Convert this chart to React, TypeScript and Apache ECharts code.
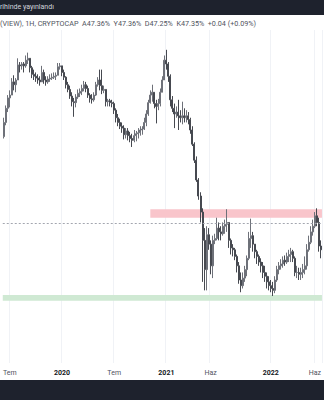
import React, { useEffect, useRef } from "react";
import * as echarts from "echarts";

// Weekly BTC dominance candles (values in %)
const firstOpen = 56.5;
const closes = [
  58.0, 59.5, 60.6, 60.9, 62.3, 62.0, 62.5, 64.1, 64.0, 64.2,
  64.0, 64.6, 64.8, 63.8, 63.1, 62.9, 62.7, 62.5, 62.3, 63.3,
  62.5, 62.3, 62.6, 62.7, 62.8, 62.9, 63.0, 63.9, 64.0, 63.3,
  62.8, 62.0, 61.5, 60.8, 60.2, 60.1, 60.7, 61.1, 61.3, 61.6,
  62.0, 61.6, 60.9, 60.5, 60.4, 60.9, 62.0, 62.5, 61.9, 61.4,
  61.5, 60.2, 60.3, 60.1, 60.0, 59.3, 58.5, 58.0, 57.6, 57.4,
  56.7, 57.1, 56.6, 56.3, 56.1, 56.6, 56.8, 56.9, 57.2, 57.3,
  58.0, 58.9, 60.1, 60.9, 61.2, 60.0, 59.7, 60.0, 61.2, 62.5,
  64.6, 64.2, 62.9, 60.4, 59.5, 58.9, 59.1, 58.7, 58.5, 58.7,
  58.5, 58.7, 58.3, 57.2, 55.7, 54.0, 51.9, 50.2, 48.5, 45.5,
  42.4, 46.1, 45.1, 42.8, 45.5, 45.7, 46.8, 46.4, 46.2, 47.0,
  47.2, 47.4, 45.5, 44.7, 44.5, 43.8, 42.8, 41.3, 40.7, 41.5,
  42.4, 43.6, 45.7, 46.0, 45.1, 44.3, 43.8, 43.2, 42.8, 42.1,
  41.7, 41.1, 40.7, 40.4, 40.2, 41.3, 42.4, 42.8, 43.0, 43.4,
  43.2, 43.8, 44.0, 44.3, 43.6, 42.1, 42.1, 41.9, 42.1, 42.4,
  42.8, 44.5, 45.3, 46.4, 47.0, 48.1, 47.4, 44.9, 44.5,
];
const highs = [
  58.5, 59.8, 60.9, 61.4, 62.7, 63.0, 62.7, 64.8, 64.4, 64.4,
  64.4, 65.1, 65.4, 64.8, 64.0, 63.6, 63.3, 63.1, 62.9, 64.0,
  63.6, 62.9, 62.9, 63.1, 63.2, 63.3, 63.3, 64.3, 64.3, 64.0,
  63.6, 62.9, 62.3, 61.9, 61.2, 60.6, 61.0, 61.5, 61.6, 62.0,
  62.4, 62.3, 61.9, 61.1, 61.0, 61.2, 62.3, 62.8, 63.6, 63.6,
  61.9, 60.8, 60.5, 60.5, 60.4, 60.2, 59.5, 58.9, 58.4, 58.0,
  57.7, 57.4, 57.4, 57.0, 56.8, 57.2, 57.1, 57.4, 57.6, 57.6,
  58.5, 59.3, 60.4, 61.4, 62.0, 61.0, 60.4, 60.5, 61.6, 62.9,
  65.1, 65.7, 64.4, 63.1, 60.8, 60.0, 59.7, 60.4, 59.3, 60.2,
  59.5, 59.3, 59.1, 58.5, 57.6, 55.9, 54.4, 52.1, 50.6, 48.9,
  46.8, 47.0, 46.8, 45.5, 46.0, 46.2, 47.9, 47.4, 47.0, 47.4,
  47.7, 48.8, 47.4, 45.7, 45.1, 44.7, 44.0, 43.2, 42.1, 42.1,
  42.8, 43.9, 46.4, 47.8, 46.4, 45.1, 44.5, 44.0, 43.6, 43.2,
  42.8, 42.1, 41.7, 41.3, 41.1, 41.7, 42.8, 43.2, 43.5, 43.8,
  43.9, 44.2, 44.5, 44.7, 44.5, 43.8, 42.8, 42.6, 42.6, 43.0,
  43.8, 45.1, 46.0, 47.0, 47.7, 48.5, 48.9, 47.9, 45.5,
];
const lows = [
  56.3, 57.7, 59.1, 59.6, 61.2, 61.4, 61.2, 62.5, 63.3, 63.6,
  63.3, 63.8, 64.2, 63.3, 62.7, 62.5, 62.3, 62.1, 61.9, 62.5,
  62.1, 61.9, 62.1, 62.3, 62.5, 62.6, 62.5, 63.1, 63.6, 62.9,
  62.5, 61.6, 61.2, 60.5, 59.7, 58.6, 59.6, 60.5, 60.7, 60.9,
  61.3, 61.2, 60.6, 60.1, 60.0, 60.2, 60.8, 61.8, 61.4, 61.0,
  61.1, 59.7, 59.7, 59.7, 59.6, 58.9, 58.0, 57.6, 57.3, 56.9,
  56.2, 56.3, 56.1, 55.9, 55.4, 55.9, 56.0, 56.3, 56.6, 56.7,
  57.2, 57.6, 58.7, 60.0, 60.2, 59.5, 57.9, 59.3, 59.7, 61.4,
  62.5, 63.6, 62.3, 59.7, 59.1, 57.4, 58.5, 57.2, 58.0, 57.8,
  58.0, 58.0, 57.8, 56.8, 55.5, 53.7, 51.7, 49.8, 47.4, 41.1,
  40.2, 40.2, 44.5, 41.9, 41.5, 45.1, 45.5, 45.5, 45.5, 46.0,
  46.2, 46.4, 44.7, 44.0, 43.8, 43.4, 42.1, 40.9, 40.0, 40.4,
  41.1, 41.7, 43.4, 44.7, 44.3, 43.6, 43.0, 42.8, 42.1, 41.5,
  41.1, 40.4, 40.2, 40.0, 39.6, 39.9, 41.1, 41.9, 42.4, 42.6,
  42.8, 43.0, 43.2, 43.2, 43.2, 41.7, 41.5, 41.3, 41.3, 41.5,
  41.9, 42.4, 44.3, 45.1, 46.0, 46.8, 47.0, 44.3, 43.6,
];

const firstWeekStart = "2019-06-10";
const tickDates = ["2019-07-01", "2020-01-01", "2020-07-01", "2021-01-01", "2021-06-01", "2022-01-01", "2022-06-01"];
const tickTexts = ["Tem", "2020", "Tem", "2021", "Haz", "2022", "Haz"];

const lastPrice = 47.35;
const resistanceZone = [47.9, 48.8];
const resistanceFrom = "2020-11-02";
const supportZone = [39.1, 39.7];

const topBanner = "rihinde yayınlandı";
const legendText = "(VIEW), 1H, CRYPTOCAP  A47.36%  Y47.36%  D47.25%  K47.35%  +0.04 (+0.09%)";

const WEEK = 7 * 864e5;
const t0 = Date.parse(firstWeekStart);
const categories = closes.map((_, i) => new Date(t0 + i * WEEK).toISOString().slice(0, 10));
const tickIndex: Record<number, string> = {};
tickDates.forEach((d, k) => {
  tickIndex[Math.floor((Date.parse(d) - t0) / WEEK)] = tickTexts[k];
});
const ohlc = closes.map((c, i) => {
  const o = i === 0 ? firstOpen : closes[i - 1];
  return [o, c, Math.min(lows[i], o, c), Math.max(highs[i], o, c)];
});
const resIdx = categories.indexOf(resistanceFrom);

export default function App() {
  const ref = useRef<HTMLDivElement>(null);
  useEffect(() => {
    if (!ref.current) return;
    const chart = echarts.init(ref.current, null, { renderer: "svg" });
    const font = "Roboto, 'Noto Sans', sans-serif";
    chart.setOption({
      animation: false,
      backgroundColor: "#ffffff",
      textStyle: { fontFamily: font },
      grid: { left: 0, right: 0, top: 30, bottom: 37 },
      xAxis: {
        type: "category",
        data: categories,
        boundaryGap: true,
        axisLine: { show: false },
        axisTick: { show: false },
        axisLabel: {
          interval: (i: number) => tickIndex[i] !== undefined,
          formatter: (_v: string, i: number) => {
            const t = tickIndex[i];
            return /^\d{4}$/.test(t) ? `{b|${t}}` : `{n|${t}}`;
          },
          margin: 6,
          rich: {
            b: { fontSize: 7, fontWeight: "bold", color: "#131722", fontFamily: font },
            n: { fontSize: 7, color: "#50535e", fontFamily: font },
          },
        },
        splitLine: {
          show: true,
          interval: (i: number) => tickIndex[i] !== undefined,
          lineStyle: { color: "#f0f2f6", width: 1 },
        },
      },
      yAxis: {
        type: "value",
        min: 32.5,
        max: 67.8,
        show: false,
        splitLine: { show: false },
      },
      series: [
        {
          type: "candlestick",
          data: ohlc,
          barWidth: 1.5,
          itemStyle: {
            color: "#7d8089",
            color0: "#464950",
            borderColor: "#6e7179",
            borderColor0: "#464950",
            borderWidth: 1,
          },
          markLine: {
            symbol: "none",
            silent: true,
            label: { show: false },
            lineStyle: { color: "#a3a6af", type: [2, 2], width: 1 },
            data: [{ yAxis: lastPrice }],
          },
          markArea: {
            silent: true,
            label: { show: false },
            data: [
              [
                { xAxis: resIdx, yAxis: resistanceZone[1], itemStyle: { color: "#f9c5cb" } },
                { xAxis: Infinity, yAxis: resistanceZone[0] },
              ],
              [
                { xAxis: -Infinity, yAxis: supportZone[1], itemStyle: { color: "#cfe9d3" } },
                { xAxis: Infinity, yAxis: supportZone[0] },
              ],
            ],
          },
        },
      ],
      graphic: [
        { type: "rect", left: 0, top: 0, shape: { width: 324, height: 15 }, style: { fill: "#1e222d" }, z: 10 },
        {
          type: "text", left: 0, top: 3, z: 11,
          style: { text: topBanner, fill: "#d1d4dc", font: `7px ${font}` },
        },
        {
          type: "text", left: 0, top: 20, z: 11,
          style: { text: legendText, fill: "#50535e", font: `7.2px ${font}` },
        },
        { type: "rect", left: 0, top: 380, shape: { width: 324, height: 20 }, style: { fill: "#1e222d" }, z: 10 },
      ],
    });
    return () => chart.dispose();
  }, []);
  return <div ref={ref} style={{ width: 324, height: 400, position: "fixed", left: 0, top: 0 }} />;
}
